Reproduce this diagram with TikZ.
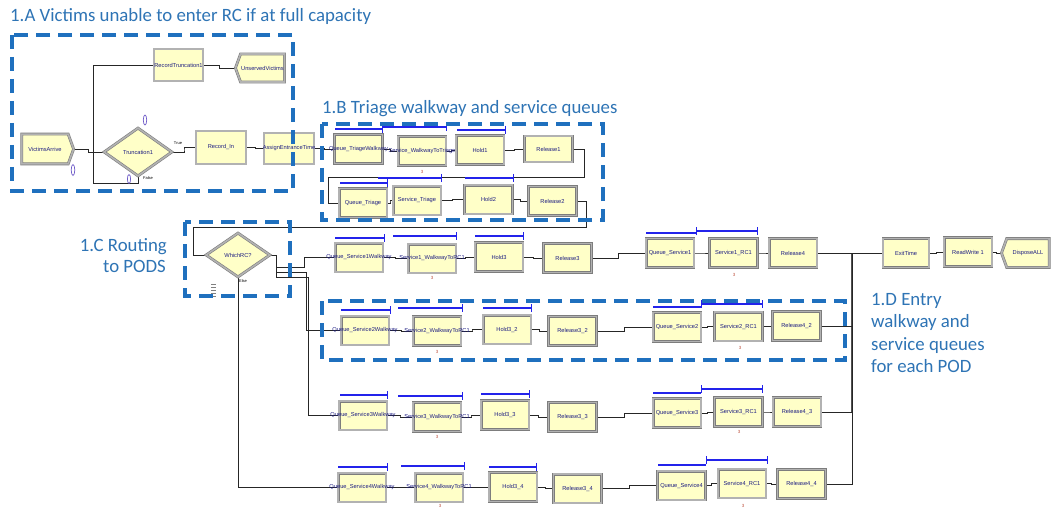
\documentclass[tikz,border=0pt]{standalone}
\usepackage{fontspec}
\setmainfont{Carlito}
\newfontfamily\modfont{Liberation Sans}
\usetikzlibrary{calc,shapes.geometric,shapes.misc,shapes.symbols,arrows.meta}

\definecolor{modfill}{RGB}{255,255,200}
\definecolor{modedge}{RGB}{125,125,125}
\definecolor{modband}{RGB}{178,178,178}
\definecolor{grpblue}{RGB}{31,112,190}
\definecolor{ttlblue}{RGB}{46,116,181}
\definecolor{namecol}{RGB}{30,30,130}
\definecolor{barblue}{RGB}{35,35,235}
\definecolor{cntcol}{RGB}{110,90,200}
\definecolor{numcol}{RGB}{190,80,60}
\definecolor{busgray}{RGB}{80,80,80}

\pgfdeclarelayer{paper}
\pgfdeclarelayer{wires}
\pgfsetlayers{paper,wires,main}

\tikzset{
  amod/.style={draw=modedge, double=modband, double distance=1.6pt, line width=0.6pt,
    fill=modfill, inner sep=0pt, minimum width=47.8pt, minimum height=28.8pt},
  arect/.style={amod, rectangle},
  arec/.style={amod, chamfered rectangle, chamfered rectangle corners=north west,
    chamfered rectangle xsep=4pt, chamfered rectangle ysep=4pt},
  aasg/.style={amod, chamfered rectangle, chamfered rectangle xsep=5pt,
    chamfered rectangle ysep=5pt},
  acre/.style={amod, signal, signal to=east, signal pointer angle=140},
  adsp/.style={amod, signal, signal to=west, signal pointer angle=140},
  adec/.style={amod, diamond},
  mlabel/.style={font=\modfont\fontsize{5.7}{6}\selectfont, text=namecol, inner sep=0pt},
  tiny label/.style={font=\modfont\fontsize{4}{4}\selectfont, text=black, inner sep=0pt},
  numl/.style={font=\modfont\fontsize{4.5}{5}\selectfont, text=numcol, inner sep=0pt},
  conn/.style={draw=black!85, line width=0.8pt},
  elbow/.style={to path={-| ($(\tikztostart)!.5!(\tikztotarget)$) |- (\tikztotarget)}},
  grp/.style={draw=grpblue, line width=3.6pt, dash pattern=on 14pt off 8pt},
  ttl/.style={text=ttlblue, font=\fontsize{18.8}{22.5}\selectfont, inner sep=0pt},
  qbar/.style={draw=barblue, line width=1.1pt},
  qbart/.style={qbar, -{Bar[width=8pt, line width=1.1pt]}},
  sbar/.style={qbar, {Bar[width=8pt, line width=1.1pt]}-{Bar[width=8pt, line width=1.1pt]}},
  cnt/.style={draw=cntcol, line width=0.7pt},
  busline/.style={draw=busgray, line width=2.4pt}
}

\begin{document}
\begin{tikzpicture}[x=1pt, y=-1pt]
\useasboundingbox (0,0) rectangle (1055,508);
\begin{pgfonlayer}{paper}
\fill[white] (0,0) rectangle (1055,508);
\end{pgfonlayer}

% ---------- modules ----------
% arrivals and capacity check
\node[acre, minimum width=51.8pt, minimum height=29.8pt] (va) at (45,149) {};
\node[adec, minimum width=68pt, minimum height=48pt] (t1) at (138,152) {};
\node[arec, minimum width=50pt, minimum height=33pt] (rin) at (221,147.5) {};
\node[aasg, minimum width=50pt, minimum height=31pt] (aet) at (289,148.5) {};
\node[arec, minimum width=49pt, minimum height=32pt] (rt1) at (178.5,65) {};
\node[adsp, minimum width=49pt, minimum height=28pt] (uv) at (262.5,68) {};

% triage walkway and service
\node[arect] (qtw) at (358.5,149) {};
\node[arect] (swt) at (422,151) {};
\node[arect] (h1)  at (480,150) {};
\node[arect, minimum height=26pt] (r1) at (548.5,149) {};
\node[arect] (qt)  at (363,203) {};
\node[arect] (st)  at (417,200.5) {};
\node[arect] (h2)  at (488.5,199.5) {};
\node[arect] (r2)  at (552.5,201) {};

% routing
\node[adec, minimum width=64pt, minimum height=44pt] (wrc) at (238,255) {};

% POD 1
\node[arect] (q1w) at (359,257.5) {};
\node[arect] (s1w) at (432,258.5) {};
\node[arect] (h3)  at (499,257) {};
\node[arect] (r3)  at (567.5,258) {};
\node[arect] (q1)  at (670,253) {};
\node[arect] (s1)  at (733.5,253) {};
\node[arect] (r4)  at (793,253) {};
% POD 2
\node[arect] (q2w) at (365,330.5) {};
\node[arect] (s2w) at (437,331) {};
\node[arect] (h32) at (507,329.5) {};
\node[arect] (r32) at (572.5,331) {};
\node[arect] (q2)  at (677,327) {};
\node[arect] (s2)  at (738.5,326.5) {};
\node[arect] (r42) at (796.5,326) {};
% POD 3
\node[arect] (q3w) at (363,415.5) {};
\node[arect] (s3w) at (437,417) {};
\node[arect] (h33) at (505,415) {};
\node[arect] (r33) at (572.5,417) {};
\node[arect] (q3)  at (677,413) {};
\node[arect] (s3)  at (738.5,412) {};
\node[arect] (r43) at (797,412) {};
% POD 4
\node[arect] (q4w) at (362,487.5) {};
\node[arect] (s4w) at (439,487.5) {};
\node[arect] (h34) at (513,487) {};
\node[arect] (r34) at (577.5,488.5) {};
\node[arect] (q4)  at (681.5,485.5) {};
\node[arect] (s4)  at (742,483.5) {};
\node[arect] (r44) at (801.5,484) {};

% exit
\node[arec, minimum width=46pt] (ext) at (906,253) {};
\node[arect] (rw)  at (968,252) {};
\node[adsp] (dsp)  at (1028,253) {};

% ---------- connectors (behind the modules) ----------
\begin{pgfonlayer}{wires}
\draw[conn] (va.east) to[elbow] (t1.west);
\draw[conn] (t1.east) to[elbow] (rin.west);
\draw[conn] (t1.south) -- ++(0,7) -- ++(-45,0) |- (rt1.west);
\draw[conn] (rt1.east) to[elbow] (uv.west);
\draw[conn] (rin.east) to[elbow] (aet.west);
\draw[conn] (aet.east) to[elbow] (qtw.west);
\draw[conn] (qtw.east) to[elbow] (swt.west);
\draw[conn] (swt.east) to[elbow] (h1.west);
\draw[conn] (h1.east) to[elbow] (r1.west);
\draw[conn] (r1.east) -| ++(12,28) -| ([xshift=-10pt]qt.west) -- (qt.west);
\draw[conn] (qt.east) to[elbow] (st.west);
\draw[conn] (st.east) to[elbow] (h2.west);
\draw[conn] (h2.east) to[elbow] (r2.west);
\draw[conn] (r2.east) -| ++(10,26) -| ([xshift=-12pt]wrc.west) -- (wrc.west);

% routing to the four PODs
\coordinate (wx) at ([xshift=6pt]wrc.east);
\draw[conn] (wrc.east) -- (wx) -- ([yshift=-22pt]wx);
\draw[conn] ([yshift=-12pt]wx) -- ++(28,0) |- (q1w.west);
\draw[conn] ([yshift=-17pt]wx) -- ++(30,0) |- (q2w.west);
\draw[conn] ([yshift=-22pt]wx) -- ++(32,0) |- (q3w.west);
\draw[conn] (wrc.south) |- (q4w.west);

\foreach \a/\b in {q1w/s1w, s1w/h3, h3/r3, r3/q1, q1/s1, s1/r4,
                   q2w/s2w, s2w/h32, h32/r32, r32/q2, q2/s2, s2/r42,
                   q3w/s3w, s3w/h33, h33/r33, r33/q3, q3/s3, s3/r43,
                   q4w/s4w, s4w/h34, h34/r34, r34/q4, q4/s4, s4/r44,
                   ext/rw, rw/dsp}
  \draw[conn] (\a.east) to[elbow] (\b.west);

% collecting bus towards the exit
\coordinate (bus) at ([xshift=35pt]r4.east);
\draw[busline] (bus) -- (bus |- r43.east);
\draw[conn] (r4.east) -- (ext.west);
\draw[conn] (r42.east) -| (bus);
\draw[conn] (r43.east) -| (bus);
\draw[conn] (r44.east) -| (bus);
\end{pgfonlayer}

% ---------- module names ----------
\foreach \n/\t in {va/VictimsArrive, t1/Truncation1, rin/Record\_In,
  aet/AssignEntranceTime, rt1/RecordTruncation1, uv/UnservedVictims,
  qtw/Queue\_TriageWalkway, swt/Service\_WalkwayToTriage, h1/Hold1, r1/Release1,
  qt/Queue\_Triage, st/Service\_Triage, h2/Hold2, r2/Release2, wrc/WhichRC?,
  q1w/Queue\_Service1Walkway, s1w/Service1\_WalkwayToRC1, h3/Hold3, r3/Release3,
  q1/Queue\_Service1, s1/Service1\_RC1, r4/Release4,
  q2w/Queue\_Service2Walkway, s2w/Service2\_WalkwayToRC1, h32/Hold3\_2, r32/Release3\_2,
  q2/Queue\_Service2, s2/Service2\_RC1, r42/Release4\_2,
  q3w/Queue\_Service3Walkway, s3w/Service3\_WalkwayToRC1, h33/Hold3\_3, r33/Release3\_3,
  q3/Queue\_Service3, s3/Service3\_RC1, r43/Release4\_3,
  q4w/Queue\_Service4Walkway, s4w/Service4\_WalkwayToRC1, h34/Hold3\_4, r34/Release3\_4,
  q4/Queue\_Service4, s4/Service4\_RC1, r44/Release4\_4,
  ext/ExitTime, rw/ReadWrite 1, dsp/DisposeALL}
  \node[mlabel] (\n-t) at (\n) {\t};

% branch labels
\node[tiny label] (t1-true)  at (178,143.5) {True};
\node[tiny label] (t1-false) at (148,178) {False};
\node[tiny label] (wrc-else) at (243,281) {Else};

% resource counts
\node[numl] (n-b1) at (422,172) {3};
\node[numl] (n-11) at (432,278) {3};
\node[numl] (n-12) at (734,275) {3};
\node[numl] (n-21) at (437,352) {3};
\node[numl] (n-22) at (740,348) {3};
\node[numl] (n-31) at (437,437) {3};
\node[numl] (n-32) at (739,432) {3};
\node[numl] (n-41) at (440,505.5) {3};
\node[numl] (n-42) at (743,505.5) {3};

% entity counters
\draw[cnt] (73,170) ellipse (1.8 and 5.5);
\draw[cnt] (145,120) ellipse (1.7 and 5);
\draw[cnt] (129,179) ellipse (1.6 and 4.5);
\foreach \yy in {284,287,290,293,296}
  \draw[gray, line width=0.8pt] (211,\yy) -- (216,\yy);

% ---------- queue and resource animation bars ----------
\draw[qbart] (335,129) -- (383,129);
\draw[qbart] (383,127) -- (447,127);
\draw[qbart] (457,130) -- (506,130);
\draw[qbart] (340,183) -- (388,183);
\draw[qbart] (378,178) -- (442,178);
\draw[qbart] (465,178) -- (514,178);
\draw[qbart] (335,238) -- (385,238);
\draw[qbart] (393,236) -- (457,236);
\draw[qbart] (475,236) -- (524,236);
\draw[qbar]  (646,233) -- (696,233);
\draw[sbar]  (696,231) -- (758,231);
\draw[qbart] (341,310) -- (391,310);
\draw[qbart] (398,308) -- (463,308);
\draw[qbart] (483,308) -- (532,308);
\draw[qbar]  (653,307) -- (701,307);
\draw[sbar]  (701,304) -- (763,304);
\draw[qbart] (340,395) -- (388,395);
\draw[qbart] (398,396) -- (463,396);
\draw[qbart] (481,394) -- (530,394);
\draw[qbar]  (653,393) -- (701,393);
\draw[sbar]  (701,389) -- (763,389);
\draw[qbart] (338,467) -- (388,467);
\draw[qbart] (401,466) -- (465,466);
\draw[qbart] (489,467) -- (537,467);
\draw[qbar]  (658,465) -- (706,465);
\draw[sbar]  (706,460) -- (768,460);

% ---------- groups and their titles ----------
\draw[grp] (12,35) rectangle (293,191);
\draw[grp] (322,124) rectangle (603,220);
\draw[grp] (185,222) rectangle (290,296);
\draw[grp] (322,301) rectangle (845,360);

\node[ttl, anchor=base west] (ta) at (10,22) {1.A Victims unable to enter RC if at full capacity};
\node[ttl, anchor=base west] (tb) at (322,113.5) {1.B Triage walkway and service queues};
\node[ttl, anchor=base east] (tc1) at (167,251.5) {1.C Routing};
\node[ttl, anchor=base east] (tc2) at (166,272.5) {to PODS};
\node[ttl, anchor=base west] (td1) at (871,305) {1.D Entry};
\node[ttl, anchor=base west] (td2) at (871,327.5) {walkway and};
\node[ttl, anchor=base west] (td3) at (871,350) {service queues};
\node[ttl, anchor=base west] (td4) at (871,372.5) {for each POD};
\end{tikzpicture}
\end{document}
